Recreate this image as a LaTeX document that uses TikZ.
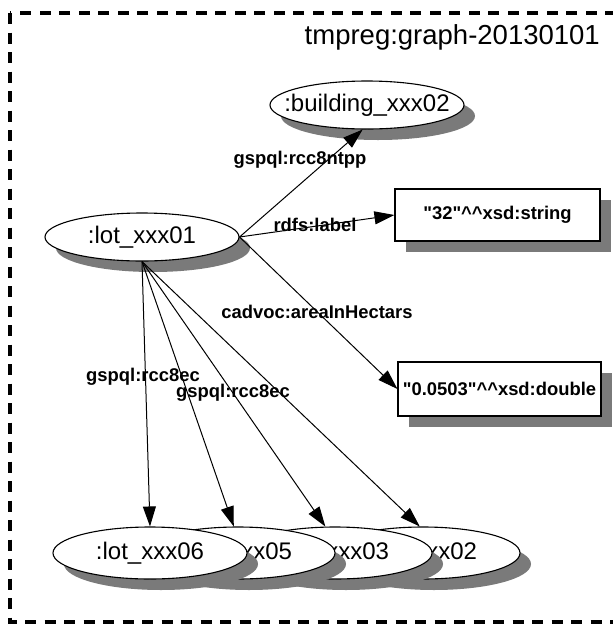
\documentclass[tikz,border=0pt]{standalone}
\usepackage{fontspec}
\setmainfont{Liberation Sans}
\usetikzlibrary{arrows.meta,shapes.geometric,shadows}

\tikzset{
  flat shadow/.style={drop shadow={shadow xshift=11pt,shadow yshift=-11pt,fill=black!52,opacity=1}},
  res/.style={ellipse,draw,fill=white,line width=1.1pt,minimum width=194pt,minimum height=48pt,
    inner xsep=-20pt,inner ysep=0pt,font=\fontsize{24}{26}\selectfont,flat shadow},
  lit/.style={rectangle,draw,fill=white,line width=1.1pt,inner sep=2pt,
    font=\fontsize{18.4}{20}\selectfont\bfseries,flat shadow},
  elabel/.style={inner sep=0pt,font=\fontsize{18.4}{20}\selectfont\bfseries},
  link/.style={-{Triangle[length=20pt,width=13pt]},line width=1pt},
}

\begin{document}
\begin{tikzpicture}[x=1pt,y=-1pt]
  \useasboundingbox (0,0) rectangle (613,625);
  \clip (0,0) rectangle (613,625);

  % Graph frame
  \draw[line width=4.5pt,dash pattern=on 11pt off 8.5pt] (10,13) rectangle (640,622);
  \node[anchor=east,inner sep=0pt,font=\fontsize{27.5}{30}\selectfont] (gname) at (600,37) {tmpreg:graph-20130101};

  % Resources and literals
  \node[res] (building) at (367,105) {:building\_xxx02};
  \node[res] (lot01) at (142,237) {:lot\_xxx01};
  \node[lit,minimum width=205pt,minimum height=52pt] (str) at (497.5,215)
    {\textquotedbl 32\textquotedbl\textasciicircum\textasciicircum xsd:string};
  \node[lit,minimum width=203pt,minimum height=54pt] (dbl) at (499.5,389)
    {\textquotedbl 0.0503\textquotedbl\textasciicircum\textasciicircum xsd:double};

  % Neighbouring lots, back to front
  \foreach \n/\x in {02/423,03/335,05/238,06/150}
    \node[res,minimum height=52pt] (lot\n) at (\x,553) {:lot\_xxx\n};

  % Edges
  \draw[link] (lot01.east) -- (building.260);
  \draw[link] (lot01.east) -- (str.west);
  \draw[link] (lot01.east) -- (dbl.west);
  \foreach \n/\a in {06/north,05/99,03/110,02/97}
    \draw[link] (lot01.south) -- (lot\n.\a);

  % Edge labels
  \node[elabel] (ntpp) at (300,160) {gspql:rcc8ntpp};
  \node[elabel] (lbl) at (315,225) {rdfs:label};
  \node[elabel] (area) at (317,312) {cadvoc:areaInHectars};
  \node[elabel] (eca) at (143,377) {gspql:rcc8ec};
  \node[elabel] (ecb) at (233,393) {gspql:rcc8ec};
\end{tikzpicture}
\end{document}
